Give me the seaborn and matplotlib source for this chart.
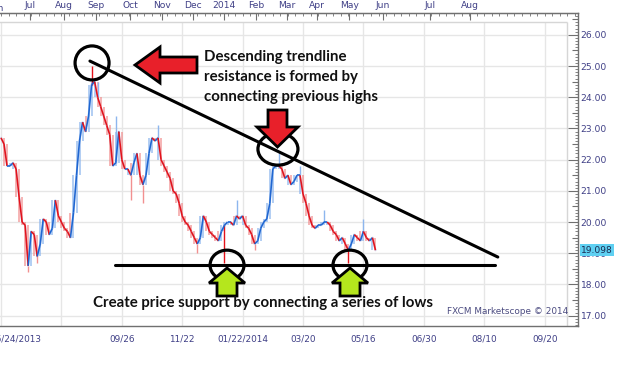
import numpy as np
import matplotlib.pyplot as plt
import seaborn as sns
from matplotlib.collections import LineCollection
from matplotlib.patches import Ellipse, Polygon
from matplotlib.ticker import MultipleLocator

# closing prices, one value every 2 trading days
close = [22.7, 22.5, 21.8, 21.8, 21.9, 21.7, 20.8, 20.0, 19.9, 18.6,
         19.7, 19.6, 18.9, 19.3, 20.1, 20.0, 19.6, 19.8, 20.7, 20.2,
         20.0, 19.8, 19.7, 19.5, 20.3, 21.5, 22.6, 23.2, 22.9, 23.4,
         24.4, 24.5, 24.0, 23.7, 23.4, 23.1, 22.8, 21.8, 21.9, 22.9,
         22.0, 21.7, 21.7, 21.5, 21.9, 22.2, 21.5, 21.2, 21.5, 22.2,
         22.7, 22.6, 22.7, 22.0, 21.8, 21.6, 21.4, 21.0, 20.9, 20.6,
         20.2, 20.0, 19.9, 19.7, 19.5, 19.3, 19.5, 20.2, 20.0, 19.7,
         19.6, 19.5, 19.4, 19.7, 19.9, 20.0, 20.0, 19.9, 20.2, 20.1,
         20.2, 19.9, 19.8, 19.6, 19.3, 19.4, 19.8, 20.0, 20.1, 20.6,
         21.7, 21.8, 21.8, 21.7, 21.4, 21.5, 21.2, 21.3, 21.5, 21.5,
         20.9, 20.6, 20.2, 19.9, 19.8, 19.9, 19.9, 20.0, 20.0, 19.9,
         19.7, 19.6, 19.4, 19.5, 19.3, 19.1, 19.3, 19.6, 19.5, 19.4,
         19.7, 19.5, 19.4, 19.5, 19.098]
days = np.arange(len(close)) * 2

# wick extremes
spike_idx = [9, 12, 30, 32, 38, 43, 47, 52, 65, 74, 78, 84, 92, 99, 107, 115, 120]
spike_val = [18.4, 18.7, 25.0, 24.5, 23.4, 20.7, 20.6, 23.1, 19.0, 18.7,
             20.7, 19.1, 22.2, 21.8, 20.4, 18.7, 20.1]

# trendlines
res_days = [58.9, 329.0]
res_price = [25.16, 18.88]
sup_days = [75.5, 327.0]
sup_price = [18.62, 18.62]

# axis labels
month_days = [19, 41.5, 63, 85.5, 106.5, 127, 147.5, 169, 189.5, 209.5, 230.5, 253, 284, 310.5]
month_labels = ['Jul', 'Aug', 'Sep', 'Oct', 'Nov', 'Dec', '2014', 'Feb', 'Mar', 'Apr',
                'May', 'Jun', 'Jul', 'Aug']
date_days = [10, 80, 120, 160, 200, 240, 280, 320, 360]
date_labels = ['06/24/2013', '09/26', '11/22', '01/22/2014', '03/20', '05/16',
               '06/30', '08/10', '09/20']
grid_days = [0, 40, 80, 120, 160, 200, 240, 280, 320, 360]
price_ticks = [17, 18, 19, 20, 21, 22, 23, 24, 25, 26]
last_price = 19.098

sns.set_style('white')
plt.rcParams['font.family'] = ['DejaVu Sans']

W, H = 623, 369
fig = plt.figure(figsize=(W / 100, H / 100), dpi=100)
ax = fig.add_axes([0, 43 / H, 578 / W, 313 / H])
ax.set_xlim(-0.66, 382.1)
ax.set_ylim(16.67, 26.70)
right_edge = 374.8
top_edge = 26.42

lab_col = '#3f3f86'
rule_col = '#707070'
grid_col = '#e6e6e6'
up_col, dn_col = '#1f66d1', '#e3121b'
up_lt, dn_lt = '#8db6ee', '#f29090'

# grid and inner frame
ax.hlines(price_ticks, -1, right_edge, color=grid_col, lw=1, zorder=0)
ax.vlines(grid_days, 16.6, top_edge, color=grid_col, lw=1, zorder=0)
ax.hlines([top_edge], -1, right_edge, color='#d6d6d6', lw=1, zorder=0)
ax.vlines([right_edge], 16.6, top_edge, color='#d6d6d6', lw=1, zorder=0)

# price bars
sns.lineplot(x=days, y=close, ax=ax, color='#b9cff2', lw=1.6, alpha=0.6, zorder=1)
n = len(close)
up = [close[i] >= close[i - 1] for i in range(1, n)]
for i in range(1, n):
    nb = close[max(i - 1, 0):min(i + 2, n)]
    ax.vlines(days[i], min(nb), max(nb), color=up_lt if up[i - 1] else dn_lt,
              lw=1.1, alpha=0.85, zorder=2)
segs = [[(days[i - 1], close[i - 1]), (days[i], close[i])] for i in range(1, n)]
cols = [up_col if u else dn_col for u in up]
ax.add_collection(LineCollection(segs, colors=cols, linewidths=1.15, zorder=3))
for i, v in zip(spike_idx, spike_val):
    c = dn_lt if v < close[i] else up_lt
    if i in (74, 115, 30):
        c = dn_col
    ax.vlines(days[i], min(v, close[i]), max(v, close[i]), color=c, lw=1.0, zorder=2)

# trendlines and circles
ax.plot(res_days, res_price, color='black', lw=2.2, zorder=5)
ax.plot(sup_days, sup_price, color='black', lw=2.2, zorder=5)
for (cx, cy, w, h) in [(60.3, 25.10, 22.5, 1.09), (183.4, 22.34, 26.5, 1.03),
                       (149.7, 18.62, 22.5, 0.96), (231.1, 18.62, 22.5, 0.96)]:
    ax.add_patch(Ellipse((cx, cy), w, h, fill=False, ec='black', lw=2.3, zorder=6))

# rulers
ax.spines['left'].set_visible(False)
for s in ['top', 'bottom', 'right']:
    ax.spines[s].set_color(rule_col)
    ax.spines[s].set_linewidth(1)

ax.set_xticks(date_days, date_labels)
ax.xaxis.set_minor_locator(MultipleLocator(5))
ax.tick_params(axis='x', which='major', direction='in', length=5, color=rule_col,
               labelsize=6.4, labelcolor=lab_col, pad=6)
ax.tick_params(axis='x', which='minor', direction='in', length=2.5, color=rule_col)

ax.yaxis.tick_right()
ax.set_yticks(price_ticks, [f'{p:.2f}' for p in price_ticks])
ax.yaxis.set_minor_locator(MultipleLocator(0.1))
ax.tick_params(axis='y', which='major', direction='in', length=7, color=rule_col,
               labelsize=6.6, labelcolor=lab_col, pad=2)
ax.tick_params(axis='y', which='minor', direction='in', length=2.2, color=rule_col, width=0.6)
half = ax.secondary_yaxis('right')
half.set_yticks([p + 0.5 for p in [16] + price_ticks], [''] * 11)
half.tick_params(direction='in', length=4.5, color=rule_col)
half.spines['right'].set_visible(False)

top = ax.secondary_xaxis('top')
top.set_xticks(month_days, month_labels)
top.xaxis.set_minor_locator(MultipleLocator(5))
top.tick_params(which='major', direction='in', length=5, color=rule_col,
                labelsize=6.6, labelcolor=lab_col, pad=2)
top.tick_params(which='minor', direction='in', length=2.5, color=rule_col)
top.spines['top'].set_color(rule_col)
ax.text(-2.8, 1.0, 'Jun', transform=ax.get_xaxis_transform(), ha='center', va='bottom',
        fontsize=6.6, color=lab_col, clip_on=False)
ax.set_xlabel('')
ax.set_ylabel('')

# last price tag
ax.text(1.005, last_price, f'{last_price:.3f}', transform=ax.get_yaxis_transform(),
        ha='left', va='center', fontsize=6.6, color='#1a2a50', clip_on=False,
        bbox=dict(boxstyle='square,pad=0.15', fc='#5fd0f2', ec='none'))

# overlay for arrows and captions (pixel units)
ov = fig.add_axes([0, 0, 1, 1])
ov.set_xlim(0, W)
ov.set_ylim(H, 0)
ov.axis('off')
ov.patch.set_alpha(0)

left_arrow = [(135, 65), (160, 47), (160, 57), (197, 57), (197, 73), (160, 73), (160, 83)]
down_arrow = [(268, 110), (287, 110), (287, 127), (298, 127), (277.5, 147), (257, 127), (268, 127)]
for pts in [left_arrow, down_arrow]:
    ov.add_patch(Polygon(pts, closed=True, fc='#e8202a', ec='black', lw=2, joinstyle='miter'))
for tip in [227, 350]:
    pts = [(tip, 268), (tip + 18, 283), (tip + 10, 283), (tip + 10, 296),
           (tip - 10, 296), (tip - 10, 283), (tip - 18, 283)]
    ov.add_patch(Polygon(pts, closed=True, fc='#b5e61d', ec='black', lw=2, joinstyle='miter'))

cap = dict(fontsize=10.8, fontweight='bold', color='#111111', family=['Lato', 'DejaVu Sans'],
           ha='left', va='center')
ov.text(204, 57, 'Descending trendline', **cap)
ov.text(204, 77, 'resistance is formed by', **cap)
ov.text(204, 97, 'connecting previous highs', **cap)
ov.text(93, 303, 'Create price support by connecting a series of lows', **cap)
ov.text(447, 312, 'FXCM Marketscope \u00a9 2014', fontsize=6.4, color='#4b4b80',
        ha='left', va='center')

fig.savefig('out.png', dpi=100)
